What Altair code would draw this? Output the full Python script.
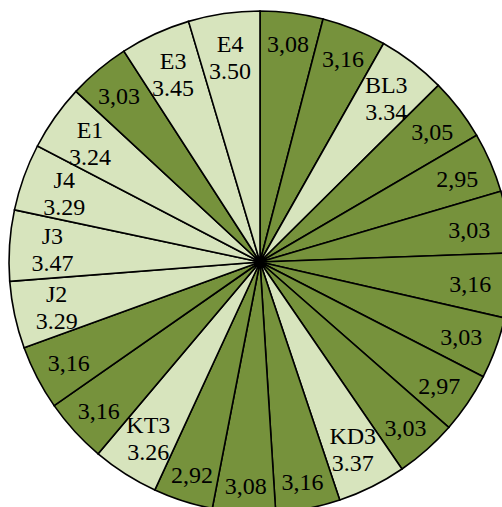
import altair as alt
import pandas as pd

names = ["", "", "BL3", "", "", "", "", "", "", "", "KD3", "", "", "", "KT3",
         "", "", "J2", "J3", "J4", "E1", "", "E3", "E4"]
values = [3.08, 3.16, 3.34, 3.05, 2.95, 3.03, 3.16, 3.03, 2.97, 3.03, 3.37, 3.16,
          3.08, 2.92, 3.26, 3.16, 3.16, 3.29, 3.47, 3.29, 3.24, 3.03, 3.45, 3.50]

labels = []
kinds = []
for n, v in zip(names, values):
    if n:
        labels.append(f"{n}\n{v:.2f}")
        kinds.append("light")
    else:
        labels.append(f"{v:.2f}".replace(".", ","))
        kinds.append("dark")

df = pd.DataFrame({"idx": list(range(len(values))), "value": values,
                   "label": labels, "kind": kinds})

cx, cy = 260, 262

arcs = alt.Chart(df).mark_arc(radius=251, stroke="black", strokeWidth=1.6, clip=True).encode(
    theta=alt.Theta("value:Q", stack=True),
    order=alt.Order("idx:Q", sort="ascending"),
    x=alt.value(cx), y=alt.value(cy),
    color=alt.Color("kind:N", scale=alt.Scale(domain=["dark", "light"],
                                              range=["#76923C", "#D7E4BD"]),
                    legend=None),
)

text_base = alt.Chart(df).transform_joinaggregate(
    total="sum(value)"
).transform_window(
    cum="sum(value)", sort=[alt.SortField("idx", order="ascending")],
    frame=[None, 0]
).transform_calculate(
    mid="(datum.cum - datum.value / 2) / datum.total * 2 * PI",
).transform_calculate(
    r="datum.kind == 'dark' ? 210 + 12 * abs(cos(datum.mid)) : 208"
).encode(
    theta=alt.Theta("mid:Q", scale=None, stack=None),
    radius=alt.Radius("r:Q", scale=None, stack=None),
    x=alt.value(cx), y=alt.value(cy),
    text="label:N",
)

text_dark = text_base.transform_filter("datum.kind == 'dark'").mark_text(
    font="Liberation Serif", fontSize=24, color="black",
    align="center", baseline="middle", dy=3)

text_light = text_base.transform_filter("datum.kind == 'light'").mark_text(
    font="Liberation Serif", fontSize=24, color="black",
    lineBreak="\n", lineHeight=27,
    align="center", baseline="middle", dy=-11)

chart = (arcs + text_dark + text_light).properties(
    width=502, height=507,
    autosize=alt.AutoSizeParams(type="none"),
    padding=0,
).configure_view(stroke=None)

chart.save("out.html", embed_options={"renderer": "svg", "actions": False})
